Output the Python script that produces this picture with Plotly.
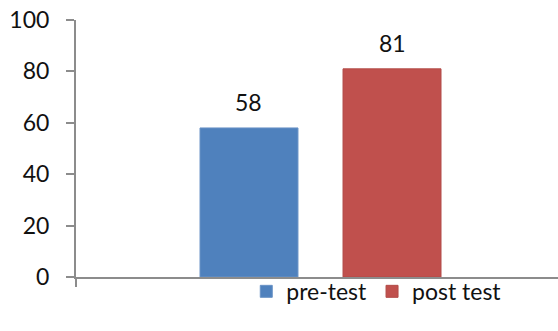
import plotly.graph_objects as go

categories = ["score"]
series_names = ["pre-test", "post test"]
series_values = [[58], [81]]
series_colors = ["#4F81BD", "#C0504D"]
border_colors = ["#6A93C6", "#B24B48"]
y_ticks = [0, 20, 40, 60, 80, 100]

bargap = 0.415
bargroupgap = 0.315

fig = go.Figure()
for name, vals, col, bcol in zip(series_names, series_values, series_colors, border_colors):
    fig.add_trace(go.Bar(x=categories, y=vals, name=name,
                         marker=dict(color=col, line=dict(color=bcol, width=1))))

# value labels above bars
n = len(series_names)
slot = (1 - bargap) / n
for i, vals in enumerate(series_values):
    for j, v in enumerate(vals):
        fig.add_annotation(x=j - (1 - bargap) / 2 + slot * (i + 0.5), y=v, xref="x", yref="y",
                           text=str(v), showarrow=False, yshift=26,
                           font=dict(size=23, color="#111111", family="Lato"))

fig.update_layout(
    width=558, height=331,
    margin=dict(l=76, r=0, t=20, b=54),
    paper_bgcolor="white", plot_bgcolor="white",
    barmode="group", bargap=bargap, bargroupgap=bargroupgap,
    font=dict(family="Lato", size=23, color="#111111"),
    legend=dict(orientation="h", x=0.624, xanchor="center", y=-0.056, yanchor="middle",
                font=dict(size=23, family="Lato", color="#111111"),
                itemwidth=30, bgcolor="rgba(0,0,0,0)"),
    showlegend=True,
)
fig.update_xaxes(type="category", range=[-0.5, -0.5 + 482 / 489], showticklabels=False,
                 showline=True, linecolor="#8c8c8c", linewidth=2,
                 ticks="outside", tickson="boundaries", ticklen=8, tickcolor="#8c8c8c", tickwidth=2,
                 showgrid=False, zeroline=False)
fig.update_yaxes(range=[0, 100], tickvals=y_ticks, showline=True, linecolor="#8c8c8c", linewidth=2,
                 ticks="outside", ticklen=8, tickcolor="#8c8c8c", tickwidth=2,
                 ticklabelstandoff=12,
                 showgrid=False, zeroline=False,
                 tickfont=dict(size=23, family="Lato", color="#111111"))

fig.write_html("out.html")
